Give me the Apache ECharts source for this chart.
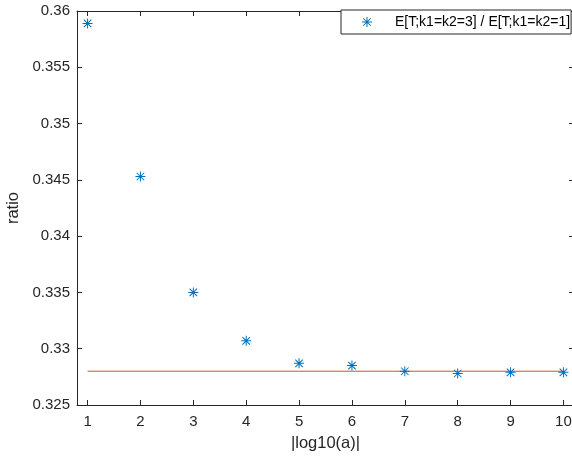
<!DOCTYPE html>
<html>
<head>
<meta charset="utf-8">
<script src="https://cdn.jsdelivr.net/npm/echarts@6/dist/echarts.min.js"></script>
<style>
html,body{margin:0;padding:0;background:#fff;}
#c{width:572px;height:457px;}
</style>
</head>
<body>
<div id="c"></div>
<script>
// ---- data ----
var xValues = [1, 2, 3, 4, 5, 6, 7, 8, 9, 10];
var ratioValues = [0.3589, 0.3453, 0.3350, 0.3307, 0.3287, 0.3285, 0.3280, 0.3278, 0.3279, 0.3279];
var refLineX = [1, 10];
var refLineY = [0.3280, 0.3280];
var xTicks = [1, 2, 3, 4, 5, 6, 7, 8, 9, 10];
var yTicks = [0.325, 0.33, 0.335, 0.34, 0.345, 0.35, 0.355, 0.36];
var seriesName = 'E[T;k1=k2=3] / E[T;k1=k2=1]';
var xName = '|log10(a)|';
var yName = 'ratio';

var FONT = '"Liberation Sans", Arial, Helvetica, sans-serif';
var AX = '#262626';
var STAR = 'path://M0,4.5 L10,4.5 L10,5.5 L0,5.5 Z M4.5,0 L5.5,0 L5.5,10 L4.5,10 Z ' +
  'M1.6,0.9 L9.1,8.4 L8.4,9.1 L0.9,1.6 Z M8.4,0.9 L9.1,1.6 L1.6,9.1 L0.9,8.4 Z';

var scatterData = xValues.map(function (x, i) { return [x, ratioValues[i]]; });
var lineData = refLineX.map(function (x, i) { return [x, refLineY[i]]; });

function xAx(pos, showLabel) {
  return {
    type: 'value', position: pos, min: 0.8, max: 10.2,
    name: showLabel ? xName : '', nameLocation: 'middle', nameGap: 30,
    nameTextStyle: { fontFamily: FONT, fontSize: 16.5, color: AX },
    axisLine: { show: true, onZero: false, lineStyle: { color: AX, width: 1 } },
    axisTick: { show: true, inside: true, length: 5, customValues: xTicks, lineStyle: { color: AX } },
    axisLabel: { show: showLabel, customValues: xTicks, margin: 9, fontFamily: FONT, fontSize: 15, color: AX },
    splitLine: { show: false }
  };
}
function yAx(pos, showLabel) {
  return {
    type: 'value', position: pos, min: 0.325, max: 0.36, interval: 0.005,
    name: showLabel ? yName : '', nameLocation: 'middle', nameGap: 47,
    nameTextStyle: { fontFamily: FONT, fontSize: 16.5, color: AX },
    axisLine: { show: true, onZero: false, lineStyle: { color: AX, width: 1 } },
    axisTick: { show: true, inside: true, length: 5, lineStyle: { color: AX } },
    axisLabel: { show: showLabel, margin: 7, fontFamily: FONT, fontSize: 15, color: AX,
      formatter: function (v) { return String(Math.round(v * 1000) / 1000); } },
    splitLine: { show: false }
  };
}

var chart = echarts.init(document.getElementById('c'), null, { renderer: 'canvas' });
chart.setOption({
  animation: false,
  backgroundColor: '#ffffff',
  grid: { left: 77, top: 11, right: -2, bottom: 52, containLabel: false, outerBoundsMode: 'none' },
  xAxis: [xAx('bottom', true), xAx('top', false)],
  yAxis: [yAx('left', true), yAx('right', false)],
  legend: {
    data: [seriesName],
    left: 341, top: 10,
    orient: 'horizontal',
    backgroundColor: '#fff',
    borderColor: AX, borderWidth: 1, borderRadius: 0,
    padding: [5, 1, 5, 21],
    itemWidth: 10, itemHeight: 10,
    textStyle: { fontFamily: FONT, fontSize: 14, color: '#000', padding: [0, 0, 0, 18] }
  },
  series: [
    {
      name: 'ref', type: 'line', data: lineData, showSymbol: false, symbol: 'none',
      lineStyle: { color: '#D95319', width: 1 }, silent: true, z: 2
    },
    {
      name: seriesName, type: 'scatter', data: scatterData,
      symbol: STAR, symbolSize: 10,
      itemStyle: { color: '#0072BD', opacity: 1 }, z: 3
    }
  ]
});
</script>
</body>
</html>
